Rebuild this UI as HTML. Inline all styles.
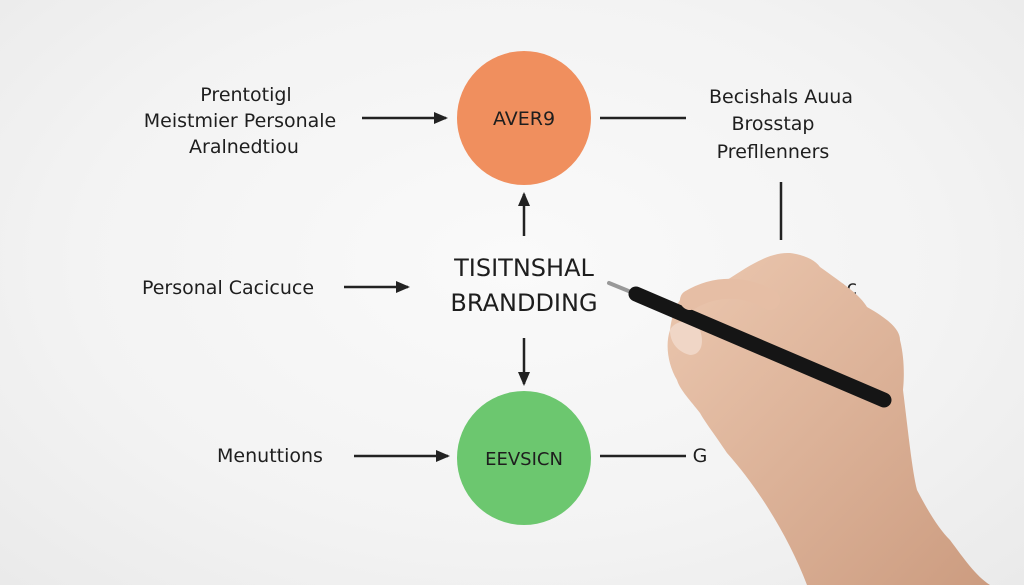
<!DOCTYPE html>
<html><head><meta charset="utf-8"><style>
html,body{margin:0;padding:0}
body{width:1024px;height:585px;overflow:hidden;background:radial-gradient(ellipse at 50% 45%,#fafafa 0%,#f3f3f3 60%,#eaeaea 100%);font-family:"Liberation Sans",sans-serif}
svg{position:absolute;left:0;top:0}
text{font-family:"DejaVu Sans","Liberation Sans",sans-serif;fill:#1e1e1e}
</style></head><body>
<svg width="1024" height="585" viewBox="0 0 1024 585">
<defs><marker id="a" markerWidth="14" markerHeight="14" refX="12" refY="7" orient="auto" markerUnits="userSpaceOnUse"><path d="M0,1 L14,7 L0,13 Z" fill="#222"/></marker>
<linearGradient id="skin" x1="0" y1="0" x2="1" y2="1"><stop offset="0" stop-color="#ecc8b0"/><stop offset="1" stop-color="#cc9c80"/></linearGradient></defs>
<circle cx="524" cy="118" r="67" fill="#f08f5e"/>
<circle cx="524" cy="458" r="67" fill="#6cc76f"/>
<text x="524" y="125" font-size="19" text-anchor="middle">AVER9</text>
<text x="524" y="465" font-size="18" text-anchor="middle">EEVSICN</text>
<g stroke="#222" stroke-width="2.5" fill="none">
<line x1="362" y1="118" x2="446" y2="118" marker-end="url(#a)"/>
<line x1="600" y1="118" x2="686" y2="118"/>
<line x1="781" y1="182" x2="781" y2="240"/>
<line x1="524" y1="236" x2="524" y2="194" marker-end="url(#a)"/>
<line x1="344" y1="287" x2="408" y2="287" marker-end="url(#a)"/>
<line x1="524" y1="338" x2="524" y2="384" marker-end="url(#a)"/>
<line x1="354" y1="456" x2="448" y2="456" marker-end="url(#a)"/>
<line x1="600" y1="456" x2="686" y2="456"/>
</g>
<g font-size="19" text-anchor="middle">
<text x="246" y="101">Prentotigl</text>
<text x="240" y="127">Meistmier Personale</text>
<text x="244" y="153">Aralnedtiou</text>
<text x="781" y="103">Becishals Auua</text>
<text x="773" y="130">Brosstap</text>
<text x="773" y="158">Prefllenners</text>
<text x="228" y="294">Personal Cacicuce</text>
<text x="270" y="462">Menuttions</text>
<text x="840" y="294">nac</text>
<text x="700" y="462">G</text>
</g>
<text x="524" y="276" font-size="24" text-anchor="middle">TISITNSHAL</text>
<text x="524" y="311" font-size="24" text-anchor="middle">BRANDDING</text>
<path d="M683,297 C700,285 715,282 727,280 C750,265 770,252 790,253 C805,255 815,260 820,267 C845,285 860,295 867,307 C890,320 900,330 900,340 C905,360 904,380 903,390 C908,430 912,470 917,490 C930,515 940,530 950,540 C965,560 975,575 990,585 L807,585 C790,540 760,490 727,453 C715,435 705,422 700,413 C690,400 680,390 677,380 C668,365 665,345 670,330 C672,315 676,303 683,297 Z" fill="url(#skin)"/>
<path d="M670,330 C675,320 690,318 700,330 C705,345 700,355 690,355 C678,352 670,343 670,330 Z" fill="#f0d6c6"/>
<line x1="609" y1="283" x2="636" y2="294" stroke="#999" stroke-width="4" stroke-linecap="round"/>
<line x1="636" y1="294" x2="884" y2="400" stroke="#151515" stroke-width="15" stroke-linecap="round"/>
<path d="M690,300 C715,285 745,285 770,300" stroke="#e6bea5" stroke-width="20" fill="none" stroke-linecap="round"/>
</svg>
</body></html>
